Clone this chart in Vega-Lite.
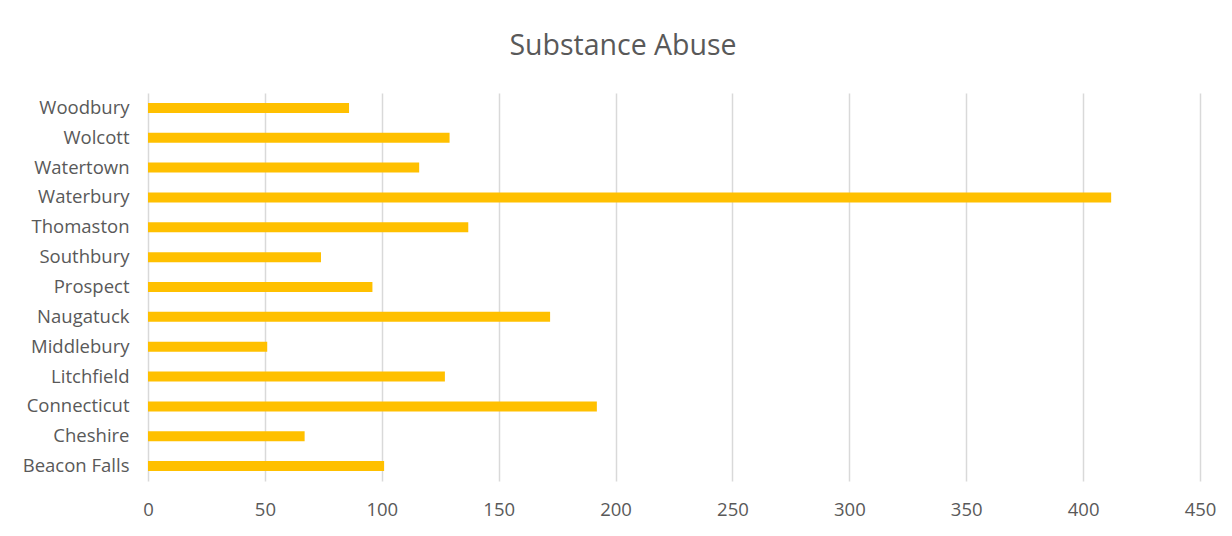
{
  "$schema": "https://vega.github.io/schema/vega-lite/v6.json",
  "width": 1052,
  "height": 388,
  "autosize": {"type": "none"},
  "padding": {"left": 148, "top": 93, "right": 32, "bottom": 55},
  "background": "white",
  "title": {
    "text": "Substance Abuse",
    "fontSize": 28.5,
    "font": "Open Sans",
    "fontWeight": "normal",
    "color": "#595959",
    "anchor": "middle",
    "dx": -51,
    "offset": 33
  },
  "data": {
    "values": [
      {"town": "Woodbury", "value": 86},
      {"town": "Wolcott", "value": 129},
      {"town": "Watertown", "value": 116},
      {"town": "Waterbury", "value": 412},
      {"town": "Thomaston", "value": 137},
      {"town": "Southbury", "value": 74},
      {"town": "Prospect", "value": 96},
      {"town": "Naugatuck", "value": 172},
      {"town": "Middlebury", "value": 51},
      {"town": "Litchfield", "value": 127},
      {"town": "Connecticut", "value": 192},
      {"town": "Cheshire", "value": 67},
      {"town": "Beacon Falls", "value": 101}
    ]
  },
  "mark": {"type": "bar", "color": "#FFC000", "size": 10},
  "encoding": {
    "y": {
      "field": "town",
      "type": "nominal",
      "sort": "descending",
      "scale": {"paddingInner": 0, "paddingOuter": 0},
      "axis": {
        "title": null,
        "ticks": false,
        "domain": false,
        "labelFont": "Open Sans",
        "labelFontSize": 18.5,
        "labelColor": "#595959",
        "labelPadding": 19
      }
    },
    "x": {
      "field": "value",
      "type": "quantitative",
      "scale": {"domain": [0, 450]},
      "axis": {
        "title": null,
        "values": [0, 50, 100, 150, 200, 250, 300, 350, 400, 450],
        "ticks": false,
        "domain": false,
        "grid": true,
        "gridColor": "#d9d9d9",
        "gridWidth": 1.5,
        "labelFlush": false,
        "labelFont": "Open Sans",
        "labelFontSize": 18.5,
        "labelColor": "#595959",
        "labelPadding": 19
      }
    }
  },
  "config": {"view": {"stroke": null}}
}
